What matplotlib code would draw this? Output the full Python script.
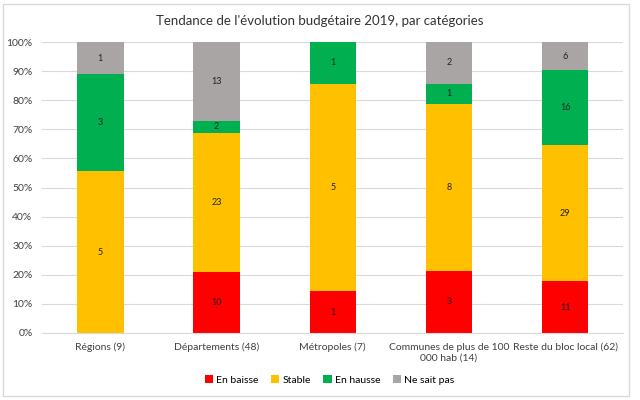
import numpy as np
import matplotlib.pyplot as plt
from matplotlib.patches import Rectangle

categories = ["Régions (9)", "Départements (48)", "Métropoles (7)",
              "Communes de plus de 100\n000 hab (14)", "Reste du bloc local (62)"]
series = ["En baisse", "Stable", "En hausse", "Ne sait pas"]
baisse = [0, 10, 1, 3, 11]
stable = [5, 23, 5, 8, 29]
hausse = [3, 2, 1, 1, 16]
nsp = [1, 13, 0, 2, 6]
colors = ["#FF0000", "#FFC000", "#00B050", "#A9A5A5"]

plt.rcParams['font.family'] = ['Lato', 'DejaVu Sans']

fig = plt.figure(figsize=(6.4, 4.0), dpi=100)
fig.patches.append(Rectangle((0.005, 0.01), 0.978, 0.98, transform=fig.transFigure,
                             fill=False, edgecolor="#D9D9D9", linewidth=1))
ax = fig.add_axes([0.066, 0.1675, 0.908, 0.7275])

data = np.array([baisse, stable, hausse, nsp], dtype=float)
totals = data.sum(axis=0)
pct = data / totals * 100
x = np.arange(len(categories))
bottom = np.zeros(len(categories))
for i, name in enumerate(series):
    ax.bar(x, pct[i], 0.4, bottom=bottom, color=colors[i], label=name, zorder=2)
    for j in range(len(categories)):
        if data[i, j] > 0:
            ax.text(x[j], bottom[j] + pct[i, j] / 2, "%d" % data[i, j],
                    ha="center", va="center", fontsize=6.5, color="#222222", zorder=3)
    bottom += pct[i]

ax.set_ylim(0, 100)
ax.set_xlim(-0.5, len(categories) - 0.5)
ax.set_yticks(np.arange(0, 101, 10))
ax.set_yticklabels(["%d%%" % v for v in range(0, 101, 10)], fontsize=7.5, color="#404040")
ax.set_xticks(x)
ax.set_xticklabels(categories, fontsize=7.5, color="#404040")
ax.tick_params(length=0, pad=7)
ax.grid(axis="y", color="#D9D9D9", linewidth=0.8, zorder=0)
for s in ["top", "right", "left"]:
    ax.spines[s].set_visible(False)
ax.spines["bottom"].set_color("#D9D9D9")

fig.text(0.5, 0.947, "Tendance de l'évolution budgétaire 2019, par catégories",
         ha="center", va="center", fontsize=9.5, color="#333333")
fig.legend(loc="center", bbox_to_anchor=(0.515, 0.05), ncol=4, frameon=False,
           fontsize=7.5, handlelength=0.8, handleheight=0.8, handletextpad=0.3,
           columnspacing=1.2)

fig.savefig("out.png", dpi=100)
